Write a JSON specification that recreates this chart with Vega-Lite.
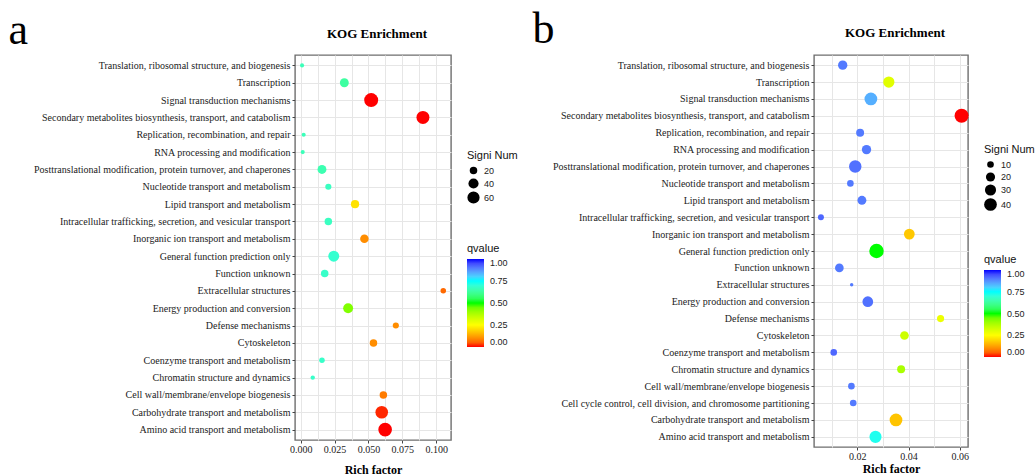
{
  "$schema": "https://vega.github.io/schema/vega-lite/v6.json",
  "background": "white",
  "padding": {"left": 7, "top": 6, "right": 0, "bottom": 0},
  "spacing": 12,
  "config": {
    "view": {"stroke": "#6e6e6e", "strokeWidth": 1.4},
    "font": "Liberation Serif",
    "axis": {
      "labelFont": "Liberation Serif",
      "labelFontSize": 10,
      "labelColor": "#222222",
      "tickColor": "#444444",
      "tickSize": 3,
      "labelPadding": 2,
      "domain": false,
      "gridColor": "#e6e6e6",
      "gridWidth": 1,
      "titleFont": "Liberation Serif",
      "titleFontWeight": "bold",
      "titleFontSize": 12,
      "titleColor": "#000000"
    },
    "legend": {
      "titleFont": "Liberation Sans",
      "titleFontWeight": "normal",
      "titleFontSize": 11,
      "titleColor": "#111111",
      "labelFont": "Liberation Sans",
      "labelFontSize": 9,
      "labelColor": "#222222",
      "padding": 0
    },
    "title": {"font": "Liberation Serif", "fontSize": 13, "fontWeight": "bold", "anchor": "middle", "color": "#000000", "offset": 14, "dy": 47, "dx": 4}
  },
  "datasets": {
    "kogA": [
      {"term": "Translation, ribosomal structure, and biogenesis", "rich": 0.0010, "num": 3, "q": 0.66},
      {"term": "Transcription", "rich": 0.0322, "num": 30, "q": 0.63},
      {"term": "Signal transduction mechanisms", "rich": 0.0520, "num": 80, "q": 0.0},
      {"term": "Secondary metabolites biosynthesis, transport, and catabolism", "rich": 0.0902, "num": 68, "q": 0.0},
      {"term": "Replication, recombination, and repair", "rich": 0.0022, "num": 3, "q": 0.66},
      {"term": "RNA processing and modification", "rich": 0.0015, "num": 3, "q": 0.66},
      {"term": "Posttranslational modification, protein turnover, and chaperones", "rich": 0.0157, "num": 30, "q": 0.65},
      {"term": "Nucleotide transport and metabolism", "rich": 0.0204, "num": 12, "q": 0.67},
      {"term": "Lipid transport and metabolism", "rich": 0.0401, "num": 25, "q": 0.21},
      {"term": "Intracellular trafficking, secretion, and vesicular transport", "rich": 0.0204, "num": 20, "q": 0.67},
      {"term": "Inorganic ion transport and metabolism", "rich": 0.0470, "num": 27, "q": 0.10},
      {"term": "General function prediction only", "rich": 0.0244, "num": 47, "q": 0.69},
      {"term": "Function unknown", "rich": 0.0177, "num": 20, "q": 0.68},
      {"term": "Extracellular structures", "rich": 0.1052, "num": 9, "q": 0.06},
      {"term": "Energy production and conversion", "rich": 0.0350, "num": 38, "q": 0.43},
      {"term": "Defense mechanisms", "rich": 0.0702, "num": 12, "q": 0.10},
      {"term": "Cytoskeleton", "rich": 0.0537, "num": 20, "q": 0.10},
      {"term": "Coenzyme transport and metabolism", "rich": 0.0157, "num": 9, "q": 0.68},
      {"term": "Chromatin structure and dynamics", "rich": 0.0089, "num": 4, "q": 0.68},
      {"term": "Cell wall/membrane/envelope biogenesis", "rich": 0.0610, "num": 20, "q": 0.08},
      {"term": "Carbohydrate transport and metabolism", "rich": 0.0598, "num": 64, "q": 0.01},
      {"term": "Amino acid transport and metabolism", "rich": 0.0623, "num": 76, "q": 0.0}
    ],
    "kogB": [
      {"term": "Translation, ribosomal structure, and biogenesis", "rich": 0.0143, "num": 21, "q": 0.90},
      {"term": "Transcription", "rich": 0.0323, "num": 31, "q": 0.30},
      {"term": "Signal transduction mechanisms", "rich": 0.0253, "num": 40, "q": 0.84},
      {"term": "Secondary metabolites biosynthesis, transport, and catabolism", "rich": 0.0607, "num": 49, "q": 0.0},
      {"term": "Replication, recombination, and repair", "rich": 0.0211, "num": 15, "q": 0.90},
      {"term": "RNA processing and modification", "rich": 0.0236, "num": 21, "q": 0.90},
      {"term": "Posttranslational modification, protein turnover, and chaperones", "rich": 0.0192, "num": 38, "q": 0.91},
      {"term": "Nucleotide transport and metabolism", "rich": 0.0173, "num": 10, "q": 0.90},
      {"term": "Lipid transport and metabolism", "rich": 0.0218, "num": 19, "q": 0.90},
      {"term": "Intracellular trafficking, secretion, and vesicular transport", "rich": 0.0058, "num": 8, "q": 0.92},
      {"term": "Inorganic ion transport and metabolism", "rich": 0.0403, "num": 28, "q": 0.175},
      {"term": "General function prediction only", "rich": 0.0275, "num": 52, "q": 0.50},
      {"term": "Function unknown", "rich": 0.0130, "num": 18, "q": 0.90},
      {"term": "Extracellular structures", "rich": 0.0178, "num": 2, "q": 0.90},
      {"term": "Energy production and conversion", "rich": 0.0241, "num": 28, "q": 0.91},
      {"term": "Defense mechanisms", "rich": 0.0525, "num": 12, "q": 0.28},
      {"term": "Cytoskeleton", "rich": 0.0384, "num": 18, "q": 0.33},
      {"term": "Coenzyme transport and metabolism", "rich": 0.0108, "num": 10, "q": 0.92},
      {"term": "Chromatin structure and dynamics", "rich": 0.0371, "num": 15, "q": 0.38},
      {"term": "Cell wall/membrane/envelope biogenesis", "rich": 0.0177, "num": 10, "q": 0.90},
      {"term": "Cell cycle control, cell division, and chromosome partitioning", "rich": 0.0184, "num": 10, "q": 0.90},
      {"term": "Carbohydrate transport and metabolism", "rich": 0.0351, "num": 40, "q": 0.17},
      {"term": "Amino acid transport and metabolism", "rich": 0.0271, "num": 36, "q": 0.73}
    ]
  },
  "hconcat": [
    {
      "width": 156,
      "height": 385,
      "title": {"text": "KOG Enrichment"},
      "data": {"name": "kogA"},
      "mark": {"type": "circle", "opacity": 1},
      "encoding": {
        "y": {
          "field": "term",
          "type": "nominal",
          "scale": {
            "type": "point",
            "padding": 0.6,
            "domain": [
              "Translation, ribosomal structure, and biogenesis",
              "Transcription",
              "Signal transduction mechanisms",
              "Secondary metabolites biosynthesis, transport, and catabolism",
              "Replication, recombination, and repair",
              "RNA processing and modification",
              "Posttranslational modification, protein turnover, and chaperones",
              "Nucleotide transport and metabolism",
              "Lipid transport and metabolism",
              "Intracellular trafficking, secretion, and vesicular transport",
              "Inorganic ion transport and metabolism",
              "General function prediction only",
              "Function unknown",
              "Extracellular structures",
              "Energy production and conversion",
              "Defense mechanisms",
              "Cytoskeleton",
              "Coenzyme transport and metabolism",
              "Chromatin structure and dynamics",
              "Cell wall/membrane/envelope biogenesis",
              "Carbohydrate transport and metabolism",
              "Amino acid transport and metabolism"
            ]
          },
          "axis": {
            "title": "a",
            "titleAngle": 0,
            "titleAlign": "left",
            "titleBaseline": "alphabetic",
            "titleX": -287,
            "titleY": -12,
            "titleFontSize": 44,
            "titleFontWeight": "normal",
            "grid": true,
            "labelLimit": 400
          }
        },
        "x": {
          "field": "rich",
          "type": "quantitative",
          "title": "Rich factor",
          "scale": {"domain": [-0.0042, 0.1109], "nice": false, "zero": false},
          "axis": {
            "values": [0, 0.0125, 0.025, 0.0375, 0.05, 0.0625, 0.075, 0.0875, 0.1],
            "labelExpr": "abs(round(datum.value / 0.0125)) % 2 == 1 ? '' : format(datum.value, '.3f')",
            "tickOpacity": {"condition": {"test": "abs(round(datum.value / 0.0125)) % 2 == 1", "value": 0}, "value": 1},
            "labelPadding": 1,
            "titlePadding": 10,
            "grid": true
          }
        },
        "size": {
          "field": "num",
          "type": "quantitative",
          "title": "Signi Num",
          "scale": {"type": "linear", "zero": false, "domain": [1, 80], "range": [12, 196]},
          "legend": {"values": [20, 40, 60], "orient": "none", "legendX": 172, "legendY": 95, "symbolFillColor": "#000000", "symbolStrokeWidth": 0, "symbolOpacity": 1}
        },
        "color": {
          "field": "q",
          "type": "quantitative",
          "title": "qvalue",
          "scale": {"domain": [0, 0.25, 0.5, 0.75, 1], "range": ["#ff0000", "#ffff00", "#00ff00", "#00ffff", "#0000ff"], "interpolate": "lab"},
          "legend": {"values": [0, 0.25, 0.5, 0.75, 1], "format": ".2f", "orient": "none", "legendX": 172, "legendY": 188, "gradientLength": 88, "gradientThickness": 17, "gradientStrokeWidth": 0, "labelOffset": 6}
        }
      }
    },
    {
      "width": 154,
      "height": 392,
      "title": {"text": "KOG Enrichment"},
      "data": {"name": "kogB"},
      "mark": {"type": "circle", "opacity": 1},
      "encoding": {
        "y": {
          "field": "term",
          "type": "nominal",
          "scale": {
            "type": "point",
            "padding": 0.6,
            "domain": [
              "Translation, ribosomal structure, and biogenesis",
              "Transcription",
              "Signal transduction mechanisms",
              "Secondary metabolites biosynthesis, transport, and catabolism",
              "Replication, recombination, and repair",
              "RNA processing and modification",
              "Posttranslational modification, protein turnover, and chaperones",
              "Nucleotide transport and metabolism",
              "Lipid transport and metabolism",
              "Intracellular trafficking, secretion, and vesicular transport",
              "Inorganic ion transport and metabolism",
              "General function prediction only",
              "Function unknown",
              "Extracellular structures",
              "Energy production and conversion",
              "Defense mechanisms",
              "Cytoskeleton",
              "Coenzyme transport and metabolism",
              "Chromatin structure and dynamics",
              "Cell wall/membrane/envelope biogenesis",
              "Cell cycle control, cell division, and chromosome partitioning",
              "Carbohydrate transport and metabolism",
              "Amino acid transport and metabolism"
            ]
          },
          "axis": {
            "title": "b",
            "titleAngle": 0,
            "titleAlign": "left",
            "titleBaseline": "alphabetic",
            "titleX": -282,
            "titleY": -13,
            "titleFontSize": 44,
            "titleFontWeight": "normal",
            "grid": true,
            "labelLimit": 400
          }
        },
        "x": {
          "field": "rich",
          "type": "quantitative",
          "title": "Rich factor",
          "scale": {"domain": [0.0031, 0.0632], "nice": false, "zero": false},
          "axis": {
            "values": [0.01, 0.02, 0.03, 0.04, 0.05, 0.06],
            "labelExpr": "abs(round(datum.value / 0.01)) % 2 == 1 ? '' : format(datum.value, '.2f')",
            "tickOpacity": {"condition": {"test": "abs(round(datum.value / 0.01)) % 2 == 1", "value": 0}, "value": 1},
            "labelPadding": 1,
            "titlePadding": 2,
            "grid": true
          }
        },
        "size": {
          "field": "num",
          "type": "quantitative",
          "title": "Signi Num",
          "scale": {"type": "linear", "zero": false, "domain": [1, 52], "range": [8, 210]},
          "legend": {"values": [10, 20, 30, 40], "orient": "none", "legendX": 170, "legendY": 89, "symbolFillColor": "#000000", "symbolStrokeWidth": 0, "symbolOpacity": 1}
        },
        "color": {
          "field": "q",
          "type": "quantitative",
          "title": "qvalue",
          "scale": {"domain": [0, 0.25, 0.5, 0.75, 1], "range": ["#ff0000", "#ffff00", "#00ff00", "#00ffff", "#0000ff"], "interpolate": "lab"},
          "legend": {"values": [0, 0.25, 0.5, 0.75, 1], "format": ".2f", "orient": "none", "legendX": 170, "legendY": 199, "gradientLength": 87, "gradientThickness": 17, "gradientStrokeWidth": 0, "labelOffset": 6}
        }
      }
    }
  ],
  "resolve": {
    "scale": {"x": "independent", "y": "independent", "color": "independent", "size": "independent"},
    "legend": {"color": "independent", "size": "independent"}
  }
}
